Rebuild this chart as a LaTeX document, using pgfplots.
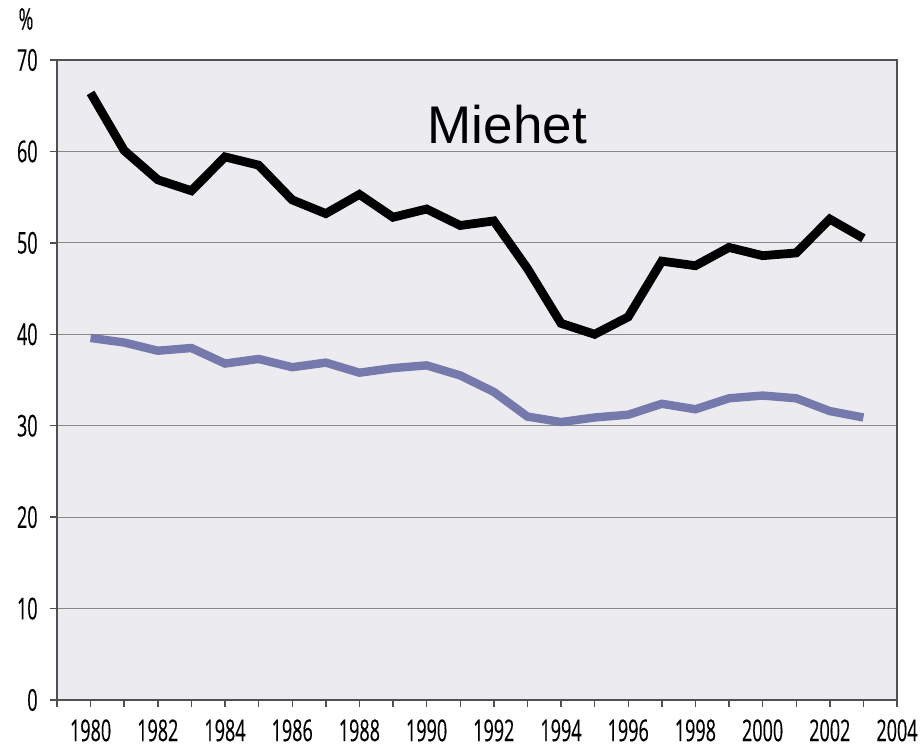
\documentclass[border=0pt]{standalone}
\usepackage{pgfplots}
\pgfplotsset{compat=1.18}
\usepackage{fontspec}
\setmainfont{Open Sans}
\newfontfamily\condfont[FakeStretch=0.6, FakeBold=0.3]{Open Sans}
\newfontfamily\arialfont{Liberation Sans}
\definecolor{bgc}{HTML}{EBEBF0}
\definecolor{bluel}{HTML}{7579AB}
\definecolor{gridc}{HTML}{8A8A8A}
\definecolor{axisc}{HTML}{505050}
\begin{document}
\begin{tikzpicture}
\path[use as bounding box] (0,0) rectangle (462pt,374.5pt);
\begin{axis}[
  at={(28.5pt,24.5pt)}, anchor=south west,
  scale only axis, width=420pt, height=320pt,
  xmin=1979, xmax=2004, ymin=0, ymax=70,
  axis background/.style={fill=bgc},
  axis line style={axisc, line width=0.8pt},
  xtick={1980,1982,...,2004},
  minor xtick={1979,1981,...,2003},
  ytick={0,10,...,70},
  xtick pos=left, ytick pos=left,
  tick align=outside,
  major tick length=3.5pt, minor tick length=3.5pt,
  tick style={axisc, line width=0.7pt},
  ymajorgrids, grid style={gridc, line width=0.6pt},
  /pgf/number format/1000 sep={},
  /pgf/number format/assume math mode=true,
  tick label style={font=\condfont\fontsize{15}{17}\selectfont, black},
  xticklabel style={anchor=north, inner sep=0pt, yshift=-6pt},
  yticklabel style={anchor=east, inner sep=0pt, xshift=-6pt},
  clip=false,
]
\addplot[black, line width=4.4pt, line join=miter] coordinates {
(1980,66.4) (1981,60.1) (1982,56.9) (1983,55.7) (1984,59.4) (1985,58.5)
(1986,54.7) (1987,53.2) (1988,55.3) (1989,52.8) (1990,53.7) (1991,51.9)
(1992,52.4) (1993,47.2) (1994,41.2) (1995,40.0) (1996,41.9) (1997,48.0)
(1998,47.5) (1999,49.5) (2000,48.6) (2001,48.9) (2002,52.6) (2003,50.5)
};
\addplot[bluel, line width=4.2pt, line join=miter] coordinates {
(1980,39.6) (1981,39.1) (1982,38.2) (1983,38.5) (1984,36.8) (1985,37.3)
(1986,36.4) (1987,36.9) (1988,35.8) (1989,36.3) (1990,36.6) (1991,35.5)
(1992,33.7) (1993,31.0) (1994,30.4) (1995,30.9) (1996,31.2) (1997,32.4)
(1998,31.8) (1999,33.0) (2000,33.3) (2001,33.0) (2002,31.6) (2003,30.9)
};
\node[inner sep=0pt, anchor=center, font=\arialfont\fontsize{26.5}{30}\selectfont] at (axis cs:1992.4,62.9) {Miehet};
\end{axis}
\node[inner sep=0pt, anchor=center, font=\condfont\fontsize{15}{17}\selectfont] at (13pt,365pt) {\%};
\end{tikzpicture}
\end{document}
